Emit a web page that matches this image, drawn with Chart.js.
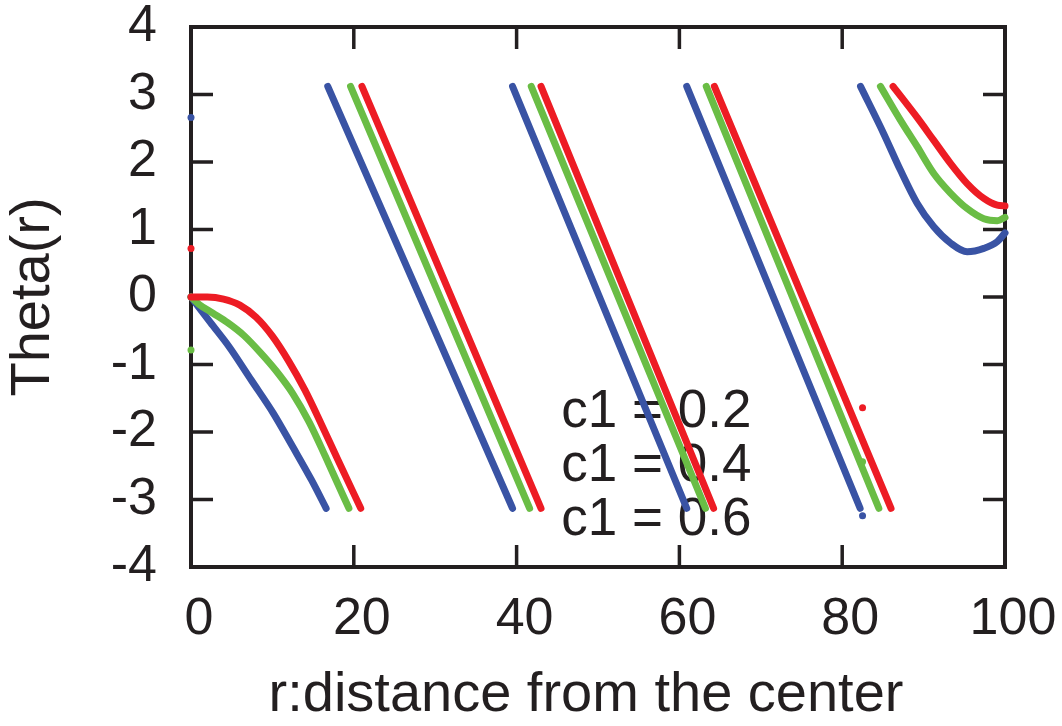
<!DOCTYPE html>
<html>
<head>
<meta charset="utf-8">
<script src="https://cdn.jsdelivr.net/npm/chart.js@4.4.0/dist/chart.umd.min.js"></script>
<style>
html,body{margin:0;padding:0;background:#fff;}
#wrap{width:1062px;height:726px;}
</style>
</head>
<body>
<div id="wrap"><canvas id="theta" width="1062" height="726"></canvas></div>
<script>
// axes
const X_TICKS = [0, 20, 40, 60, 80, 100];
const X_TICK_LABELS = ["0", "20", "40", "60", "80", "100"];
const Y_TICKS = [-4, -3, -2, -1, 0, 1, 2, 3, 4];
const Y_TICK_LABELS = ["-4", "-3", "-2", "-1", "0", "1", "2", "3", "4"];
const X_TITLE = "r:distance from the center";
const Y_TITLE = "Theta(r)";
const SERIES_NAMES = ["c1 = 0.2", "c1 = 0.4", "c1 = 0.6"];

// theta(r) per c1; null splits branches where theta wraps from -pi back to +pi
const redR = [0, 2, 4, 6, 8, 10, 12, 14, 16, 18, 20.85, null,
  21.0, 43.0, null, 43.0, 64.2, null, 64.3, 86.0, null,
  86.25, 89.2, 91.25, 93.3, 95.35, 97.4, 99.05, 100];
const redTheta = [0, 0, -0.03, -0.12, -0.3, -0.58, -0.95, -1.38, -1.88, -2.40, -3.13, null,
  3.12, -3.13, null, 3.12, -3.13, null, 3.12, -3.13, null,
  3.12, 2.66, 2.32, 1.98, 1.68, 1.46, 1.36, 1.35];

const greenR = [0, 1, 2.7, 4.5, 6.5, 8.5, 10.5, 12.5, 14.5, 16.5, 18, 19.4, null,
  19.6, 41.6, null, 41.8, 63.2, null, 63.3, 84.5, null,
  84.7, 87.15, 89.2, 91.25, 93.3, 95.35, 97.4, 99.05, 100];
const greenTheta = [0, -0.11, -0.24, -0.38, -0.57, -0.82, -1.1, -1.43, -1.85, -2.36, -2.76, -3.13, null,
  3.12, -3.13, null, 3.12, -3.13, null, 3.12, -3.13, null,
  3.12, 2.62, 2.23, 1.83, 1.54, 1.31, 1.16, 1.13, 1.18];

const blueR = [0, 2.4, 4.7, 7.4, 10.1, 12.5, 14.8, 16.6, null,
  16.8, 39.5, null, 39.5, 60.9, null, 60.9, 82.2, null,
  82.25, 85.1, 87.15, 89.2, 91.25, 93.3, 95.35, 97.4, 99.05, 100];
const blueTheta = [0, -0.38, -0.74, -1.23, -1.72, -2.22, -2.71, -3.13, null,
  3.12, -3.13, null, 3.12, -3.13, null, 3.12, -3.13, null,
  3.12, 2.42, 1.88, 1.39, 1.04, 0.80, 0.67, 0.72, 0.82, 0.95];

// isolated values at r = 0 (red, green, blue)
const centerTheta = [0.72, -0.785, 2.66];

const INK = "#231f20";
const COLORS = ["#ed1c24", "#6abd45", "#3953a4"];
const FONT = "'Liberation Sans', Arial, Helvetica, sans-serif";

function pts(rs, ts) {
  return rs.map((r, i) => r === null ? { x: null, y: null } : { x: r, y: ts[i] });
}

function branch(label, rs, ts, color) {
  return {
    label, data: pts(rs, ts),
    borderColor: color, backgroundColor: color,
    borderWidth: 7, pointRadius: 0, cubicInterpolationMode: "monotone",
    borderCapStyle: "round", borderJoinStyle: "round",
    spanGaps: false, clip: 10
  };
}

// box with inward ticks on all sides, x title, and the key (drawn under the curves)
const frame = {
  id: "frame",
  beforeDatasetsDraw(chart) {
    const { ctx, chartArea: a, scales: { x, y } } = chart;
    const TL = 22;
    ctx.save();
    ctx.strokeStyle = INK;
    ctx.lineWidth = 4;
    ctx.strokeRect(a.left, a.top, a.right - a.left, a.bottom - a.top);
    ctx.lineWidth = 3.5;
    ctx.beginPath();
    for (const v of X_TICKS) {
      const px = x.getPixelForValue(v);
      ctx.moveTo(px, a.bottom); ctx.lineTo(px, a.bottom - TL);
      ctx.moveTo(px, a.top); ctx.lineTo(px, a.top + TL);
    }
    for (const v of Y_TICKS) {
      const py = y.getPixelForValue(v);
      ctx.moveTo(a.left, py); ctx.lineTo(a.left + TL, py);
      ctx.moveTo(a.right, py); ctx.lineTo(a.right - TL, py);
    }
    ctx.stroke();

    // x axis title, centred a little left of the plot middle
    ctx.fillStyle = INK;
    ctx.font = "56px " + FONT;
    ctx.textAlign = "center";
    ctx.textBaseline = "alphabetic";
    ctx.fillText(X_TITLE, (a.left + a.right) / 2 - 12, 711);

    // key: text with a point sample to its right
    ctx.font = "53px " + FONT;
    ctx.textAlign = "left";
    const textLeft = x.getPixelForValue(45.5);
    const sampleX = x.getPixelForValue(82.5);
    SERIES_NAMES.forEach((name, i) => {
      const cy = y.getPixelForValue(-1.64 - 0.8 * i);
      ctx.fillStyle = INK;
      ctx.fillText(name, textLeft, cy + 19);
      ctx.fillStyle = COLORS[i];
      ctx.beginPath();
      ctx.arc(sampleX, cy, 3.5, 0, Math.PI * 2);
      ctx.fill();
    });
    ctx.restore();
  }
};

const datasets = [
  branch(SERIES_NAMES[0], redR, redTheta, COLORS[0]),
  branch(SERIES_NAMES[1], greenR, greenTheta, COLORS[1]),
  branch(SERIES_NAMES[2], blueR, blueTheta, COLORS[2])
];
centerTheta.forEach((t, i) => {
  datasets.push({
    label: SERIES_NAMES[i] + " (r=0)",
    data: [{ x: 0, y: t }],
    showLine: false, pointRadius: 3.5, pointBorderWidth: 0,
    backgroundColor: COLORS[i], borderColor: COLORS[i], clip: 10
  });
});

new Chart(document.getElementById("theta"), {
  type: "line",
  data: { datasets },
  options: {
    responsive: false,
    devicePixelRatio: 1,
    animation: false,
    layout: { padding: { top: 27, right: 57, left: 0, bottom: 0 } },
    plugins: { legend: { display: false }, tooltip: { enabled: false } },
    scales: {
      x: {
        type: "linear", min: 0, max: 100,
        afterBuildTicks: s => { s.ticks = X_TICKS.map(v => ({ value: v })); },
        afterFit: s => { s.height = 159; s.paddingLeft = 0; s.paddingRight = 0; },
        grid: { display: false, drawTicks: false },
        border: { display: false },
        ticks: {
          callback: v => X_TICK_LABELS[X_TICKS.indexOf(v)],
          font: { size: 52, family: FONT }, color: INK,
          padding: 21, labelOffset: 8, maxRotation: 0, autoSkip: false
        },
        title: { display: false }
      },
      y: {
        type: "linear", min: -4, max: 4,
        afterBuildTicks: s => { s.ticks = Y_TICKS.map(v => ({ value: v })); },
        afterFit: s => { s.width = 191; s.paddingTop = 0; s.paddingBottom = 0; },
        grid: { display: false, drawTicks: false },
        border: { display: false },
        ticks: {
          callback: v => Y_TICK_LABELS[Y_TICKS.indexOf(v)],
          font: { size: 52, family: FONT }, color: INK,
          padding: 34, autoSkip: false
        },
        title: {
          display: true, text: Y_TITLE,
          font: { size: 56, family: FONT }, color: INK,
          padding: { top: 0, bottom: 0 }
        }
      }
    }
  },
  plugins: [frame]
});
</script>
</body>
</html>
